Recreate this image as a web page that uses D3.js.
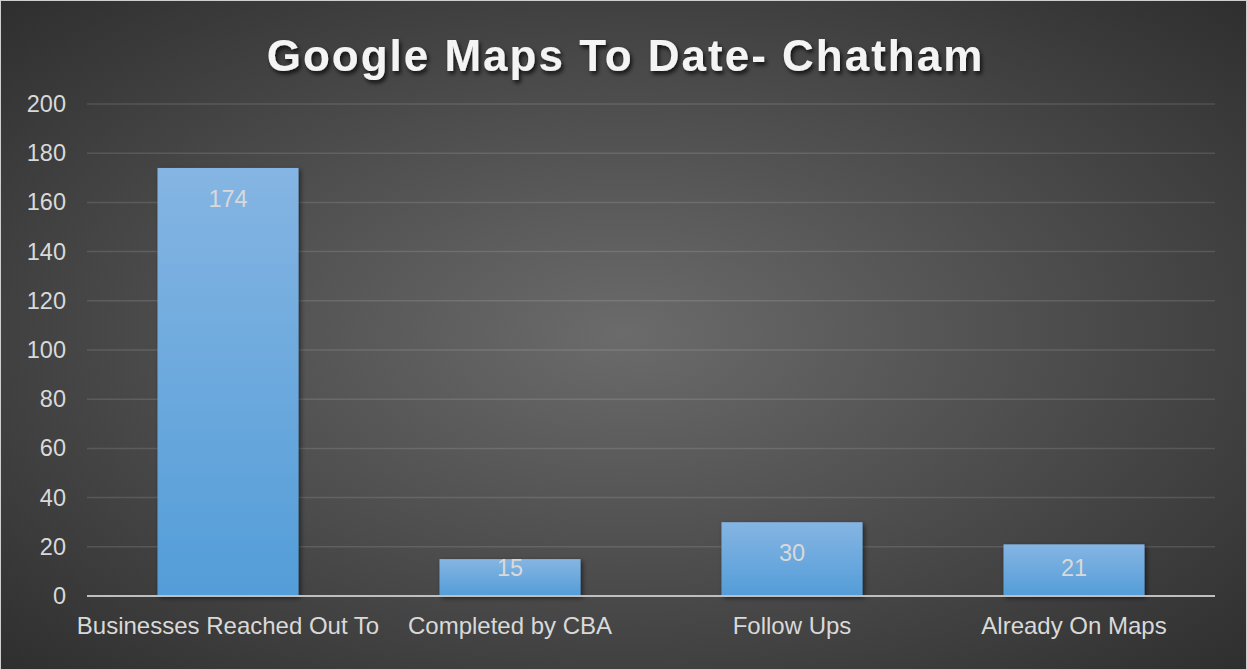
<!DOCTYPE html>
<html lang="en">
<head>
<meta charset="utf-8">
<title>Google Maps To Date- Chatham</title>
<script src="https://d3js.org/d3.v7.min.js"></script>
<style>
  html, body { margin: 0; padding: 0; background: #2e2e2e; }
  svg { display: block; font-family: "Liberation Sans", Arial, sans-serif; }
</style>
</head>
<body>
<script>
// chart data
var categories = ['Businesses Reached Out To', 'Completed by CBA', 'Follow Ups', 'Already On Maps'];
var values = [174, 15, 30, 21];
var yTicks = [0, 20, 40, 60, 80, 100, 120, 140, 160, 180, 200];
var title = 'Google Maps To Date- Chatham';

var w = 1247, h = 670;
var margin = {top: 104, right: 32, bottom: 74, left: 87};
var innerW = w - margin.left - margin.right;
var innerH = h - margin.top - margin.bottom;

var svg = d3.select('body').append('svg')
    .attr('width', w)
    .attr('height', h);

var defs = svg.append('defs');
var bg = defs.append('radialGradient').attr('id', 'bg')
    .attr('cx', '50%').attr('cy', '50%').attr('r', '70%');
bg.append('stop').attr('offset', '0%').attr('stop-color', '#6b6b6b');
bg.append('stop').attr('offset', '100%').attr('stop-color', '#2f2f2f');

var barGrad = defs.append('linearGradient').attr('id', 'barGrad')
    .attr('x1', 0).attr('y1', 0).attr('x2', 0).attr('y2', 1);
barGrad.append('stop').attr('offset', '0%').attr('stop-color', '#85b5e3');
barGrad.append('stop').attr('offset', '100%').attr('stop-color', '#539dd8');

var shadow = defs.append('filter').attr('id', 'shadow')
    .attr('x', '-20%').attr('y', '-20%').attr('width', '140%').attr('height', '140%');
shadow.append('feDropShadow').attr('dx', 2).attr('dy', 2).attr('stdDeviation', 2.5)
    .attr('flood-color', '#000').attr('flood-opacity', 0.55);

var titleShadow = defs.append('filter').attr('id', 'tshadow')
    .attr('x', '-10%').attr('y', '-30%').attr('width', '120%').attr('height', '160%');
titleShadow.append('feDropShadow').attr('dx', 2).attr('dy', 3).attr('stdDeviation', 2)
    .attr('flood-color', '#000').attr('flood-opacity', 0.75);

svg.append('rect')
    .attr('width', w).attr('height', h)
    .attr('fill', 'url(#bg)');
svg.append('rect')
    .attr('x', 0.5).attr('y', 0.5)
    .attr('width', w - 1).attr('height', h - 1)
    .attr('fill', 'none').attr('stroke', '#cfcfcf').attr('stroke-width', 1);

svg.append('text')
    .attr('x', w / 2 + 2)
    .attr('y', 71)
    .attr('text-anchor', 'middle')
    .attr('fill', '#f4f4f4')
    .attr('font-size', 44)
    .attr('font-weight', 'bold')
    .attr('letter-spacing', 2)
    .attr('filter', 'url(#tshadow)')
    .text(title);

var g = svg.append('g')
    .attr('transform', 'translate(' + [margin.left, margin.top] + ')');

var x = d3.scaleBand().domain(categories).range([0, innerW])
    .paddingInner(0.5).paddingOuter(0.25);
var y = d3.scaleLinear().domain([0, 200]).range([innerH, 0]);

// gridlines
g.append('g').selectAll('line')
    .data(yTicks.slice(1))
  .enter().append('line')
    .attr('x1', 0).attr('x2', innerW)
    .attr('y1', function(d) { return y(d); })
    .attr('y2', function(d) { return y(d); })
    .attr('stroke', '#ffffff').attr('stroke-opacity', 0.12)
    .attr('stroke-width', 1.5);

// y axis
var yAxis = g.append('g')
    .call(d3.axisLeft(y).tickValues(yTicks).tickSize(0).tickPadding(21));
yAxis.select('.domain').remove();
yAxis.selectAll('text').attr('font-size', 23.5).attr('fill', '#d9d9d9');

// bars
g.selectAll('.bar')
    .data(values)
  .enter().append('rect')
    .attr('class', 'bar')
    .attr('x', function(d, i) { return x(categories[i]); })
    .attr('y', function(d) { return y(d); })
    .attr('width', x.bandwidth())
    .attr('height', function(d) { return innerH - y(d); })
    .attr('fill', 'url(#barGrad)')
    .attr('filter', 'url(#shadow)');

// value labels
g.selectAll('.val')
    .data(values)
  .enter().append('text')
    .attr('class', 'val')
    .attr('x', function(d, i) { return x(categories[i]) + x.bandwidth() / 2; })
    .attr('y', function(d) { return Math.min(y(d) + 31, innerH - 28) + 8; })
    .attr('text-anchor', 'middle')
    .attr('font-size', 23.5)
    .attr('fill', '#d9d9d9')
    .text(function(d) { return d; });

// x axis
g.append('line')
    .attr('x1', 0).attr('x2', innerW)
    .attr('y1', innerH).attr('y2', innerH)
    .attr('stroke', '#bfbfbf').attr('stroke-width', 2);

var xAxis = g.append('g')
    .attr('transform', 'translate(0,' + innerH + ')')
    .call(d3.axisBottom(x).tickSize(0).tickPadding(21));
xAxis.select('.domain').remove();
xAxis.selectAll('text').attr('font-size', 24).attr('fill', '#d9d9d9');
</script>
</body>
</html>
